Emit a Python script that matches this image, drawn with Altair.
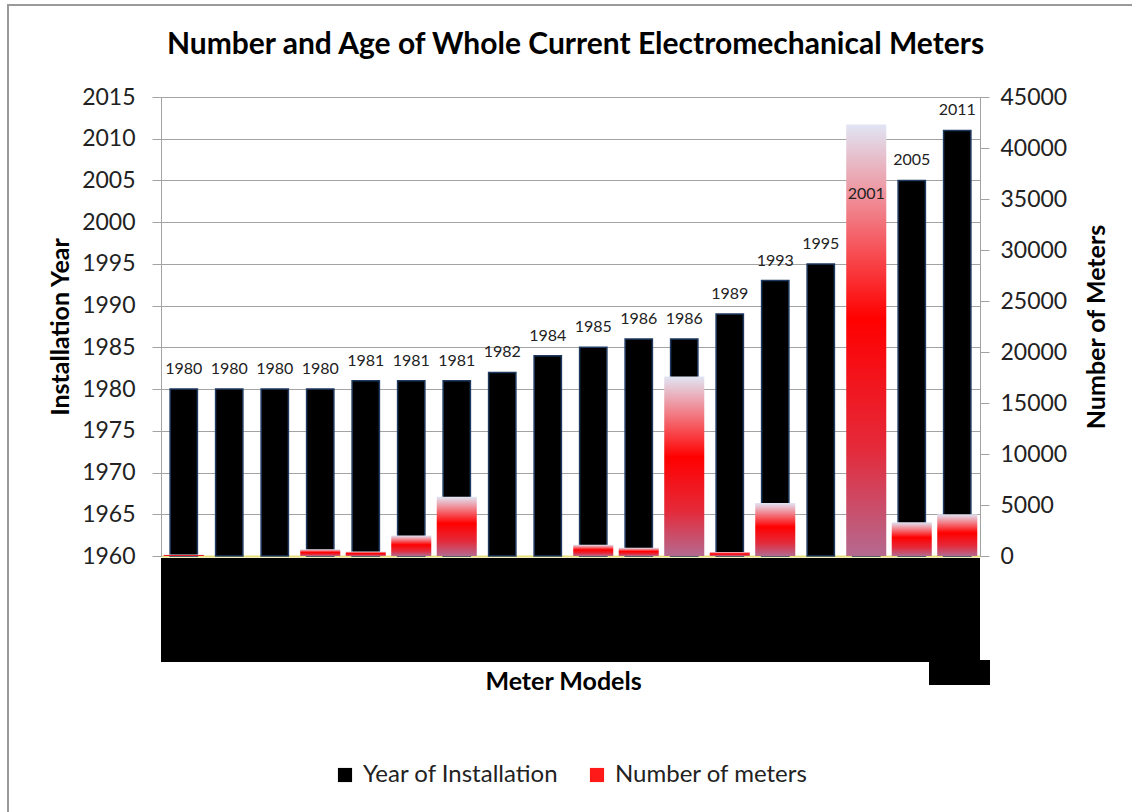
import altair as alt
import pandas as pd

# ---- data ----
models = [f"Model {i}" for i in range(1, 19)]
install_year = [1980, 1980, 1980, 1980, 1981, 1981, 1981, 1982, 1984,
                1985, 1986, 1986, 1989, 1993, 1995, 2001, 2005, 2011]
num_meters = [150, 0, 0, 650, 450, 2000, 5800, 0, 0,
              1100, 800, 17600, 400, 5200, 0, 42300, 3300, 4100]
series_names = ["Year of Installation", "Number of meters"]
year_ticks = list(range(1960, 2016, 5))
meter_ticks = list(range(0, 45001, 5000))

df = pd.DataFrame({
    "model": models,
    "year": install_year,
    "meters": num_meters,
    "series": series_names[0],
})

W, H = 819, 459
FONT = "Lato"

x_enc = alt.X(
    "model:N", sort=models,
    scale=alt.Scale(paddingInner=0.0, paddingOuter=0.0),
    axis=alt.Axis(
        title="Meter Models", labels=False, ticks=False,
        domainColor="#e6df7a", domainWidth=2,
        titleFontSize=25, titleFont=FONT, titleFontWeight="bold", titleColor="#000000",
        titleX=402, titleY=125, titleBaseline="middle", titleAlign="center",
    ),
)

red_grad = alt.LinearGradient(
    gradient="linear",
    stops=[
        alt.GradientStop(offset=0.0, color="#e0e5f4"),
        alt.GradientStop(offset=0.18, color="#f08a94"),
        alt.GradientStop(offset=0.45, color="#ff0000"),
        alt.GradientStop(offset=0.75, color="#e42a3a"),
        alt.GradientStop(offset=1.0, color="#b56a90"),
    ],
    x1=0, x2=0, y1=0, y2=1,
)

base = alt.Chart(df)

black = base.mark_bar(
    width=alt.RelativeBandSize(0.6), stroke="#1f3a60", strokeWidth=1.5
).encode(
    x=x_enc,
    y=alt.Y(
        "year:Q",
        scale=alt.Scale(domain=[1960, 2015], zero=False, nice=False),
        axis=alt.Axis(
            title="Installation Year", values=year_ticks, format="d",
            grid=True, gridColor="#a3a3a3", gridWidth=1,
            domainColor="#a3a3a3", tickColor="#a3a3a3", tickSize=9,
            labelFont=FONT, labelFontSize=23, labelColor="#222222", labelPadding=17,
            titleFont=FONT, titleFontSize=25, titleFontWeight="bold", titleColor="#000000",
            titleX=-101, titleY=H / 2, titleAngle=270, titleBaseline="middle", titleAlign="center",
        ),
    ),
    y2=alt.datum(1960),
    color=alt.Color(
        "series:N",
        scale=alt.Scale(domain=series_names, range=["#000000", "#ff1a1a"]),
        legend=alt.Legend(
            title=None, orient="none", legendX=172, legendY=666,
            direction="horizontal", symbolType="square", symbolSize=200,
            symbolStrokeWidth=0, labelLimit=0,
            labelFont=FONT, labelFontSize=24, labelColor="#222222",
            labelOffset=6, columnPadding=26,
        ),
    ),
)

red = base.mark_bar(width=alt.RelativeBandSize(0.88), color=red_grad).encode(
    x=x_enc,
    y=alt.Y(
        "meters:Q",
        scale=alt.Scale(domain=[0, 45000], nice=False),
        axis=alt.Axis(
            orient="right", title="Number of Meters", values=meter_ticks, format="d",
            grid=False, domainColor="#a3a3a3", tickColor="#a3a3a3", tickSize=9,
            labelFont=FONT, labelFontSize=23, labelColor="#222222", labelPadding=11,
            titleFont=FONT, titleFontSize=25, titleFontWeight="bold", titleColor="#000000",
            titleX=116, titleY=H / 2, titleAngle=270, titleBaseline="middle", titleAlign="center",
        ),
    ),
    y2=alt.datum(0),
)

labels = base.mark_text(
    font=FONT, fontSize=16, color="#222222", baseline="middle", dy=-20
).encode(
    x=alt.X("model:N", sort=models),
    y=alt.Y("year:Q", scale=alt.Scale(domain=[1960, 2015], zero=False, nice=False), axis=None),
    text=alt.Text("year:Q", format="d"),
)

# redaction boxes over the category labels, and the outer frame
box1 = alt.Chart(alt.Data(values=[{}])).mark_rect(color="#000000").encode(
    x=alt.value(0), x2=alt.value(W), y=alt.value(H + 2), y2=alt.value(H + 106)
)
box2 = alt.Chart(alt.Data(values=[{}])).mark_rect(color="#000000").encode(
    x=alt.value(768), x2=alt.value(829), y=alt.value(H + 104), y2=alt.value(H + 129)
)
frame = alt.Chart(alt.Data(values=[{}])).mark_rect(
    fill="transparent", stroke="#9a9a9a", strokeWidth=2
).encode(
    x=alt.value(-153), x2=alt.value(1100), y=alt.value(-92), y2=alt.value(800)
)

chart = alt.layer(black, red, labels, box1, box2, frame).resolve_scale(
    y="independent"
).properties(
    width=W, height=H,
    title=alt.TitleParams(
        "Number and Age of Whole Current Electromechanical Meters",
        font=FONT, fontSize=30, fontWeight="bold", color="#000000",
        anchor="middle", dx=5, offset=-80, baseline="alphabetic",
    ),
    autosize=alt.AutoSizeParams(type="none"),
    padding={"left": 161, "top": 97, "right": 152, "bottom": 256},
).configure_view(stroke=None).configure(background="#ffffff")

chart.save("out.html", embed_options={"renderer": "svg", "actions": False})
